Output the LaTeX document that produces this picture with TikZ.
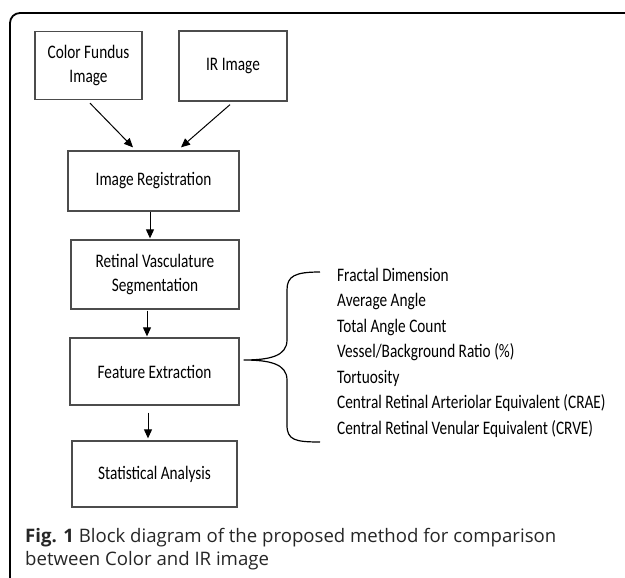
\documentclass[tikz,border=0pt]{standalone}
\usepackage{fontspec}
\usepackage{graphicx}
\setmainfont{Carlito}
\newfontfamily\capfont{Open Sans}
\usetikzlibrary{arrows.meta,calc}
\newcommand\tallx[1]{\scalebox{1}[1.25]{#1}}
\newcommand\twolines[2]{\tallx{\begin{tabular}{@{}c@{}}#1\\#2\end{tabular}}}
\begin{document}
\begin{tikzpicture}[x=1pt,y=-1pt,
  blockbox/.style={draw=black!70,line width=1.3pt,minimum width=#1,inner sep=0pt,align=center,
    font=\fontsize{15.3}{19}\selectfont},
  flowarrow/.style={line width=1pt,-{Triangle[length=9pt,width=8pt]}},
  listitem/.style={anchor=base west,inner sep=0pt,font=\fontsize{15.3}{19}\selectfont},
  captext/.style={anchor=base west,inner sep=0pt,text=black!85,font=\capfont\fontsize{18.6}{22}\selectfont},
]
\useasboundingbox (0,0) rectangle (625,578);
% frame
\draw[line width=1.8pt] (10,578) -- (10,23) arc[start angle=180,end angle=270,radius=10] -- (625,13);
% boxes
\node[blockbox=107pt,minimum height=68pt] (cfi) at (88.5,65.5) {\twolines{Color Fundus}{Image}};
\node[blockbox=108pt,minimum height=70pt] (ir) at (233,66) {\tallx{IR Image}};
\node[blockbox=171pt,minimum height=60pt] (reg) at (153.5,181) {\tallx{Image Registration}};
\node[blockbox=168pt,minimum height=69pt] (rvs) at (155,274.5) {\twolines{Retinal Vasculature}{Segmentation}};
\node[blockbox=169pt,minimum height=67pt] (fe) at (154.5,371.5) {\tallx{Feature Extraction}};
\node[blockbox=165pt,minimum height=66pt] (sa) at (154.5,474) {\tallx{Statistical Analysis}};
% arrows
\draw[flowarrow] ([xshift=1.5pt,yshift=-3pt]cfi.south) -- ([xshift=-20.5pt,yshift=3pt]reg.north);
\draw[flowarrow] ([xshift=-3pt,yshift=-3pt]ir.south) -- ([xshift=27.5pt,yshift=3pt]reg.north);
\draw[flowarrow] ([xshift=-3.5pt]reg.south) -- ([xshift=-5pt,yshift=1pt]rvs.north);
\draw[flowarrow] ([xshift=-8pt,yshift=-1pt]rvs.south) -- ([xshift=-7.5pt,yshift=1pt]fe.north);
\draw[flowarrow] ([xshift=-6.5pt,yshift=-7pt]fe.south) -- ([xshift=-6.5pt,yshift=2pt]sa.north);
% brace
\coordinate (btip) at ([xshift=4pt,yshift=11.5pt]fe.east);
\coordinate (btop) at (320,272);
\coordinate (bbot) at (320,442);
\draw[line width=1.2pt] (btop) .. controls (295,272) and (287,276) .. (287,290)
  -- (287,340) .. controls (287,356) and (270,360) .. (btip)
  .. controls (270,360) and (287,364) .. (287,380)
  -- (287,425) .. controls (287,440) and (295,442) .. (bbot);
% list
\node[listitem] (l1) at (337,281) {\tallx{Fractal Dimension}};
\node[listitem] (l2) at (337,306.5) {\tallx{Average Angle}};
\node[listitem] (l3) at (337,332) {\tallx{Total Angle Count}};
\node[listitem] (l4) at (337,357.5) {\tallx{Vessel/Background Ratio (\%)}};
\node[listitem] (l5) at (337,383) {\tallx{Tortuosity}};
\node[listitem] (l6) at (337,408.5) {\tallx{Central Retinal Arteriolar Equivalent (CRAE)}};
\node[listitem] (l7) at (337,434) {\tallx{Central Retinal Venular Equivalent (CRVE)}};
% caption
\node[captext] (cap1) at (25,542)
  {\textbf{Fig. 1} Block diagram of the proposed method for comparison};
\node[captext] (cap2) at (25,565)
  {between Color and IR image};
\end{tikzpicture}
\end{document}
